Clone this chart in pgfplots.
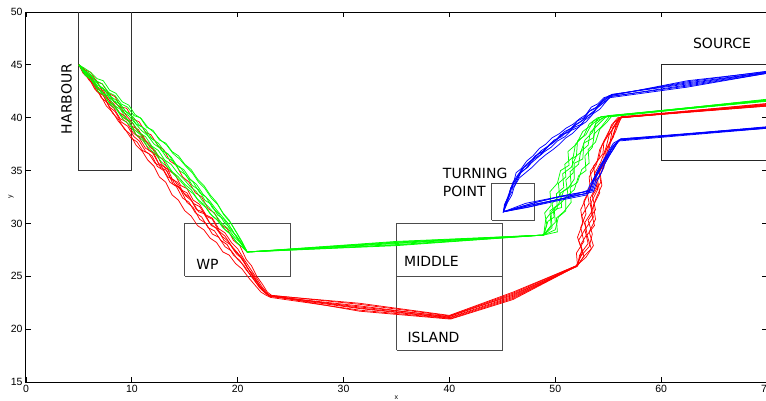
\documentclass[border=0pt]{standalone}
\usepackage{fontspec}
\setmainfont{Liberation Sans}
\newfontfamily\lblfont{DejaVu Sans}
\usepackage{pgfplots}
\pgfplotsset{compat=1.18}
\definecolor{cr}{RGB}{255,0,0}
\definecolor{cg}{RGB}{0,255,0}
\definecolor{cb}{RGB}{0,0,255}
\begin{document}
\begin{tikzpicture}
\useasboundingbox (-26pt,-18pt) rectangle (740pt,382pt);
\begin{axis}[
  scale only axis, width=741pt, height=370pt,
  xmin=0, xmax=70, ymin=15, ymax=50,
  xtick={0,10,20,30,40,50,60,70}, ytick={15,20,25,30,35,40,45,50},
  tick align=inside, major tick length=5pt,
  axis line style={black, line width=1pt},
  every tick/.style={black, line width=0.8pt},
  tick label style={font=\fontsize{10.5}{12}\selectfont},
  /pgf/number format/assume math mode=true,
  xlabel={x}, ylabel={y},
  every axis x label/.style={at={(axis description cs:0.5,-0.041)}, anchor=center, font=\fontsize{7}{8}\selectfont},
  every axis y label/.style={at={(axis description cs:-0.0202,0.5)}, anchor=center, rotate=90, font=\fontsize{7}{8}\selectfont},
  clip=true,
]
% boxes
\addplot[black!80, line width=0.9pt] coordinates {(5,50) (5,35) (10,35) (10,50)};
\addplot[black!70, line width=0.9pt] coordinates {(15,25) (25,25) (25,30) (15,30) (15,25)};
\addplot[black!70, line width=0.9pt] coordinates {(35,25) (45,25) (45,30) (35,30) (35,25)};
\addplot[black!70, line width=0.9pt] coordinates {(35,18) (45,18) (45,25) (35,25) (35,18)};
\addplot[black!70, line width=0.9pt] coordinates {(44,30.3) (48,30.3) (48,33.8) (44,33.8) (44,30.3)};
\addplot[black!85, line width=0.9pt] coordinates {(75,36) (60,36) (60,45) (75,45)};
% red
\pgfplotsset{every axis plot/.append style={line width=0.75pt}}
\addplot[cr] coordinates {(5,45) (5.6,44.5) (6.1,44.3) (6.7,43.4) (7.2,43.2) (7.8,42.3) (8.4,42.0) (9.0,41.0) (9.5,40.9) (10.1,39.9) (10.7,39.6) (11.3,38.6) (11.8,38.4) (12.5,37.3) (13.0,37.0) (13.6,35.9) (14.2,35.5) (14.8,34.4) (15.4,33.9) (16.0,32.9) (16.6,32.5) (17.2,31.4) (17.8,31.0) (18.4,29.9) (19.0,29.5) (19.6,28.4) (20.2,27.9) (20.8,26.6) (21.3,26.0) (21.8,25.0) (22.3,24.3) (22.8,23.5) (23.2,23.2)
 (31.5,22.35) (40.0,21.25) (46,23.4)
 (52.0,26.0) (52.6,27.3) (52.2,28.4) (52.9,29.6) (52.5,30.7) (53.2,31.9) (53.0,33.0) (53.8,34.3) (53.6,35.4) (54.5,36.6) (54.6,37.8) (55.4,38.9) (56.0,40.0) (70,41.2)};
\addplot[cr] coordinates {(5,45) (5.4,44.4) (6.0,43.5) (6.5,43.1) (7.1,41.9) (7.6,41.5) (8.2,40.4) (8.7,39.9) (9.3,38.9) (9.8,38.5) (10.4,37.4) (11.0,36.8) (11.5,36.0) (12.1,35.4) (12.6,34.4) (13.2,33.9) (13.8,32.7) (14.4,32.2) (15.0,31.2) (15.6,30.7) (16.2,29.8) (16.8,29.4) (17.4,28.6) (18.0,28.2) (18.6,27.3) (19.2,27.0) (19.8,26.2) (20.4,25.7) (21.0,24.9) (21.6,24.2) (22.2,23.5) (22.7,23.2) (23.1,23.0)
 (31.5,21.8) (40.1,21.0) (46,22.9)
 (52.1,26.0) (52.3,27.0) (53.1,28.1) (52.8,29.4) (53.6,30.6) (53.3,31.8) (54.0,33.2) (53.9,34.5) (54.7,35.7) (54.8,37.0) (55.5,38.2) (55.7,39.2) (56.2,40.1) (70,41.1)};
\addplot[cr] coordinates {(5,45) (5.5,44.3) (6.0,44.0) (6.6,43.0) (7.1,42.7) (7.7,41.8) (8.3,41.3) (8.8,40.5) (9.4,40.1) (10.0,39.2) (10.6,38.9) (11.2,37.9) (11.7,37.5) (12.3,36.5) (12.9,36.1) (13.5,35.0) (14.1,34.6) (14.6,33.6) (15.2,33.3) (15.8,32.2) (16.4,31.8) (17.0,30.8) (17.6,30.5) (18.2,29.5) (18.8,29.1) (19.4,28.2) (20.0,27.6) (20.6,26.6) (21.2,25.7) (21.8,24.8) (22.3,24.0) (22.8,23.4) (23.1,23.1)
 (31.5,22.2) (39.9,21.15) (46,23.3)
 (52.0,25.9) (52.8,27.0) (53.4,27.6) (53.0,28.9) (53.7,29.8) (53.4,31.1) (53.9,32.5) (54.4,33.6) (54.2,35.0) (54.9,36.2) (55.2,37.6) (55.6,38.8) (56.3,40.1) (70,41.3)};
\addplot[cr] coordinates {(5,45) (5.6,44.0) (6.1,43.6) (6.7,42.5) (7.3,42.1) (7.9,41.0) (8.4,40.6) (9.0,39.6) (9.6,39.2) (10.2,38.2) (10.7,37.8) (11.3,36.8) (11.9,36.4) (12.4,35.4) (13.0,35.0) (13.6,33.9) (14.2,33.5) (14.8,32.4) (15.4,32.0) (16.0,31.0) (16.6,30.6) (17.2,29.6) (17.8,29.3) (18.4,28.4) (19.0,28.0) (19.6,27.0) (20.2,26.5) (20.8,25.6) (21.4,24.9) (22.0,24.0) (22.5,23.5) (23.0,23.1)
 (31.5,21.95) (40,21.05) (46,23.0)
 (52.1,26.0) (52.0,27.2) (52.7,28.3) (52.4,29.6) (52.9,30.9) (52.7,32.1) (53.3,33.3) (53.2,34.4) (53.9,35.6) (54.2,37.0) (54.9,38.2) (55.3,39.3) (55.9,40.0) (70,41.15)};
\addplot[cr] coordinates {(5,45) (5.5,44.6) (6.1,43.9) (6.6,43.6) (7.2,42.6) (7.7,42.4) (8.3,41.5) (8.9,41.0) (9.4,40.3) (10.0,39.6) (10.5,38.8) (11.1,38.2) (11.7,37.2) (12.2,36.9) (12.8,35.6) (13.4,35.1) (14.0,33.8) (14.6,33.2) (15.2,32.0) (15.8,31.5) (16.4,30.4) (17.0,30.0) (17.6,29.0) (18.2,28.7) (18.8,27.8) (19.4,27.4) (20.0,26.6) (20.6,26.0) (21.2,25.1) (21.8,24.3) (22.4,23.6) (22.9,23.2)
 (31.5,22.45) (40,21.3) (46,23.5)
 (52.0,26.0) (52.9,26.8) (53.6,27.9) (53.2,29.2) (53.8,30.4) (53.6,31.7) (54.2,32.9) (54.0,34.1) (54.6,35.3) (54.6,36.5) (55.2,37.8) (55.4,39.0) (56.1,40.0) (70,41.35)};
\addplot[cr] coordinates {(5,45) (5.4,44.2) (5.9,43.8) (6.5,42.7) (7.0,42.2) (7.6,41.1) (8.2,40.5) (8.7,39.7) (9.3,39.0) (9.9,38.1) (10.5,37.7) (11.0,36.9) (11.6,36.6) (12.2,35.7) (12.8,35.4) (13.4,34.4) (14.0,34.1) (14.6,33.2) (15.2,32.9) (15.8,31.9) (16.4,31.6) (17.0,30.7) (17.6,30.4) (18.2,29.3) (18.8,28.8) (19.4,27.9) (20.0,27.2) (20.6,26.3) (21.2,25.4) (21.8,24.5) (22.4,23.7) (22.9,23.2)
 (31.5,21.7) (40.1,20.95) (46,22.8)
 (52.1,26.0) (52.5,27.5) (52.1,28.7) (52.6,30.0) (52.4,31.3) (53.0,32.6) (53.5,33.7) (53.3,34.9) (54.1,36.1) (54.4,37.4) (55.0,38.6) (55.6,39.6) (56.2,40.0) (70,41.2)};
\addplot[cr] coordinates {(5,45) (5.6,44.1) (6.2,43.8) (6.8,42.7) (7.4,42.4) (8.0,41.4) (8.6,40.8) (9.2,40.0) (9.8,39.6) (10.4,38.4) (11.0,38.1) (11.6,36.9) (12.1,36.6) (12.7,35.3) (13.3,35.0) (13.9,33.7) (14.5,33.4) (15.1,32.6) (15.7,32.1) (16.3,31.1) (16.9,30.9) (17.5,29.8) (18.1,29.5) (18.7,28.4) (19.3,28.0) (19.9,27.1) (20.5,26.6) (21.1,25.5) (21.7,24.6) (22.3,23.8) (22.8,23.3) (23.2,23.1)
 (31.5,22.1) (39.9,21.2) (46,23.2)
 (52.0,26.0) (52.4,26.9) (53.2,27.8) (53.5,29.0) (53.1,30.3) (53.8,31.3) (53.5,32.6) (54.3,33.9) (54.1,35.1) (54.8,36.4) (55.1,37.5) (55.7,38.7) (56.2,40.0) (70,41.25)};
\addplot[cr] coordinates {(5,45) (5.5,44.2) (6.0,43.9) (6.6,42.8) (7.1,42.5) (7.7,41.4) (8.3,40.9) (8.9,39.9) (9.5,39.6) (10.1,38.6) (10.7,38.1) (11.3,37.1) (11.9,36.8) (12.5,35.7) (13.1,35.3) (13.7,34.2) (14.3,33.9) (14.9,32.9) (15.5,32.4) (16.1,31.3) (16.7,31.1) (17.3,30.1) (17.9,29.6) (18.5,28.8) (19.1,28.3) (19.7,27.4) (20.3,26.9) (20.9,25.8) (21.5,25.1) (22.1,24.1) (22.6,23.5) (23.0,23.2)
 (31.5,22.0) (40,21.1) (46,23.1)
 (52.1,26.0) (52.7,26.9) (52.4,28.0) (53.0,29.0) (52.8,30.1) (53.5,31.2) (53.3,32.4) (53.9,33.5) (53.7,34.7) (54.3,35.8) (54.8,37.2) (55.1,38.4) (55.8,39.5) (56.1,40.0) (70,41.1)};
% green
\addplot[cg] coordinates {(5,45) (5.5,44.7) (6.1,44.3) (6.7,43.7) (7.3,43.5) (7.9,42.6) (8.5,42.3) (9.1,41.5) (9.7,41.2) (10.3,40.3) (10.9,39.9) (11.5,39.1) (12.1,38.6) (12.7,37.9) (13.3,37.4) (13.9,36.6) (14.5,36.1) (15.1,35.4) (15.7,34.8) (16.3,33.9) (16.9,33.3) (17.5,32.4) (18.1,31.8) (18.7,30.8) (19.3,30.1) (19.9,29.1) (20.4,28.2) (20.9,27.3)
 (35,28.25)
 (48.9,28.9) (49.3,30.2) (49.9,30.6) (49.7,31.9) (50.4,32.6) (50.3,33.8) (51.0,34.4) (50.9,35.6) (51.7,36.3) (51.9,37.5) (52.7,38.3) (53.2,39.4) (54.0,40.0) (54.6,40.1) (70,41.6)};
\addplot[cg] coordinates {(5,45) (5.5,44.2) (6.0,43.8) (6.6,42.9) (7.2,42.5) (7.8,41.5) (8.4,41.1) (9.0,40.2) (9.6,39.8) (10.2,38.9) (10.8,38.4) (11.4,37.6) (12.0,37.1) (12.6,36.3) (13.2,35.8) (13.8,34.9) (14.4,34.4) (15.0,33.7) (15.6,33.2) (16.2,32.3) (16.8,31.8) (17.4,30.9) (18.0,30.4) (18.6,29.6) (19.2,29.1) (19.8,28.3) (20.4,27.8) (20.9,27.3)
 (35,27.95)
 (48.9,28.9) (49.6,29.8) (49.5,31.2) (50.3,31.8) (50.8,33.1) (51.5,33.6) (51.4,34.9) (52.2,35.6) (52.4,36.8) (53.1,37.4) (53.3,38.6) (54.0,39.3) (54.7,40.0) (55.2,40.2) (70,41.7)};
\addplot[cg] coordinates {(5,45) (5.6,44.3) (6.2,43.9) (6.8,43.2) (7.4,42.6) (8.0,42.0) (8.6,41.6) (9.2,40.7) (9.8,40.4) (10.4,39.4) (11.0,39.1) (11.6,38.2) (12.2,37.8) (12.8,36.9) (13.4,36.6) (14.0,35.7) (14.6,35.3) (15.2,34.4) (15.8,33.9) (16.4,32.9) (17.0,32.5) (17.6,31.5) (18.2,30.9) (18.8,30.0) (19.4,29.5) (20.0,28.5) (20.5,27.9) (20.9,27.3)
 (35,28.15)
 (48.9,28.9) (49.2,29.9) (49.0,31.0) (49.6,31.7) (49.5,33.0) (50.2,33.8) (50.5,35.0) (51.3,35.5) (51.2,36.8) (52.0,37.5) (52.6,38.7) (53.4,39.3) (54.3,40.1) (70,41.55)};
\addplot[cg] coordinates {(5,45) (5.4,44.4) (6.0,43.7) (6.5,43.3) (7.1,42.4) (7.7,42.1) (8.3,41.2) (8.9,40.8) (9.5,39.9) (10.1,39.5) (10.7,38.6) (11.3,38.2) (11.9,37.3) (12.5,36.9) (13.1,36.0) (13.7,35.6) (14.3,34.8) (14.9,34.2) (15.5,33.5) (16.1,33.0) (16.7,32.1) (17.3,31.5) (17.9,30.8) (18.5,30.0) (19.1,29.5) (19.7,28.7) (20.3,28.1) (20.9,27.3)
 (35,28.0)
 (48.9,28.9) (50.0,29.4) (50.3,30.6) (51.0,31.2) (51.0,32.5) (51.8,33.2) (52.2,34.5) (52.9,35.0) (52.8,36.4) (53.5,37.2) (53.7,38.5) (54.4,39.2) (55.1,40.1) (70,41.65)};
\addplot[cg] coordinates {(5,45) (5.5,44.5) (6.0,44.2) (6.6,43.5) (7.2,43.2) (7.8,42.4) (8.4,42.1) (9.0,41.3) (9.6,41.0) (10.2,40.2) (10.8,40.0) (11.4,39.1) (12.0,38.8) (12.6,37.9) (13.2,37.6) (13.8,36.8) (14.4,36.4) (15.0,35.6) (15.6,35.1) (16.2,34.2) (16.8,33.6) (17.4,32.7) (18.0,32.0) (18.6,31.0) (19.2,30.3) (19.8,29.3) (20.4,28.3) (20.9,27.3)
 (35,28.3)
 (48.9,28.9) (49.4,29.5) (50.0,30.1) (49.9,31.4) (50.6,32.0) (51.2,32.7) (51.0,34.1) (51.7,34.8) (51.6,36.1) (52.4,36.7) (52.8,37.9) (53.5,38.6) (53.9,39.7) (54.8,40.1) (70,41.75)};
\addplot[cg] coordinates {(5,45) (5.6,44.0) (6.2,43.6) (6.8,42.5) (7.4,42.1) (8.0,41.2) (8.6,40.7) (9.2,39.8) (9.8,39.3) (10.4,38.4) (11.0,37.9) (11.6,37.1) (12.2,36.6) (12.8,35.8) (13.4,35.3) (14.0,34.6) (14.6,34.0) (15.2,33.3) (15.8,32.8) (16.4,32.0) (17.0,31.5) (17.6,30.7) (18.2,30.2) (18.8,29.4) (19.4,28.9) (20.0,28.1) (20.5,27.7) (20.9,27.3)
 (35,27.9)
 (48.9,28.9) (49.1,30.4) (49.8,31.3) (50.6,31.5) (50.5,32.9) (51.2,33.3) (51.8,34.2) (51.8,35.7) (52.6,36.1) (52.7,37.6) (53.6,38.1) (53.8,39.4) (54.5,40.0) (55.0,40.2) (70,41.6)};
\addplot[cg] coordinates {(5,45) (5.5,44.4) (6.1,44.0) (6.7,43.1) (7.3,42.8) (7.9,41.9) (8.5,41.4) (9.1,40.6) (9.7,40.2) (10.3,39.5) (10.9,38.8) (11.5,38.3) (12.1,37.5) (12.7,37.1) (13.3,36.2) (13.9,35.9) (14.5,35.0) (15.1,34.6) (15.7,33.6) (16.3,33.2) (16.9,32.2) (17.5,31.8) (18.1,30.8) (18.7,30.4) (19.3,29.4) (19.9,28.8) (20.4,28.0) (20.9,27.3)
 (35,28.1)
 (48.9,28.9) (49.7,29.6) (49.6,30.9) (50.2,31.4) (50.1,32.8) (50.8,33.4) (50.7,34.7) (51.5,35.3) (52.0,36.4) (52.1,37.8) (52.9,38.4) (53.6,39.7) (54.4,40.1) (70,41.7)};
\addplot[cg] coordinates {(5,45) (5.4,44.6) (5.9,44.0) (6.5,43.6) (7.1,42.8) (7.7,42.5) (8.3,41.6) (8.9,41.3) (9.5,40.5) (10.1,40.1) (10.7,39.3) (11.3,38.9) (11.9,38.0) (12.5,37.6) (13.1,36.8) (13.7,36.3) (14.3,35.4) (14.9,35.1) (15.5,34.2) (16.1,33.7) (16.7,32.8) (17.3,32.2) (17.9,31.4) (18.5,30.7) (19.1,30.0) (19.7,29.0) (20.3,28.2) (20.9,27.3)
 (35,28.2)
 (48.9,28.9) (50.2,29.2) (50.1,30.5) (50.8,31.1) (51.5,32.0) (51.4,33.4) (52.1,33.9) (52.5,35.1) (53.2,35.7) (53.1,37.0) (53.8,37.7) (54.2,38.9) (54.9,39.6) (55.3,40.1) (70,41.65)};
% blue
\addplot[cb] coordinates {(70,44.3) (62.5,43.3) (55.4,42.2) (54.8,41.8) (54.1,41.2) (53.6,40.5) (53.0,40.1) (52.5,39.4) (51.8,39.1) (51.2,38.6) (50.5,38.4) (49.9,37.7) (49.2,37.2) (48.6,36.5) (48.0,36.1) (47.4,35.3) (46.8,34.9) (46.4,34.1) (46.1,33.4) (45.9,32.7) (45.5,32.0) (45.1,31.1) (47.5,31.7) (50.5,32.3) (53.2,32.9) (53.5,33.9) (53.9,34.8) (54.3,35.6) (54.9,36.4) (55.4,37.3) (56.1,37.9) (70,39.05)};
\addplot[cb] coordinates {(70,44.2) (62.5,43.0) (55.1,42.0) (54.5,41.6) (53.8,40.9) (53.2,40.6) (52.6,39.8) (52.0,39.4) (51.3,38.7) (50.7,38.4) (50.0,37.8) (49.4,37.4) (48.7,36.7) (48.1,36.4) (47.5,35.6) (46.9,35.2) (46.4,34.5) (46.0,33.9) (45.7,33.0) (45.6,32.4) (45.3,31.6) (45.1,31.1) (47.8,31.9) (50.6,32.6) (53.4,33.1) (53.7,34.1) (54.2,35.0) (54.5,35.8) (55.1,36.6) (55.6,37.5) (56.2,38.0) (70,39.1)};
\addplot[cb] coordinates {(70,44.35) (62.5,43.5) (55.3,42.1) (54.6,41.9) (54.0,41.3) (53.4,41.0) (52.9,40.3) (52.3,39.9) (51.7,39.4) (51.0,39.0) (50.4,38.5) (49.7,38.1) (49.1,37.5) (48.5,37.1) (47.9,36.4) (47.3,35.9) (46.8,35.2) (46.3,34.8) (46.1,34.0) (45.8,33.3) (45.4,32.2) (45.1,31.1) (47.2,31.9) (50.2,32.5) (52.9,32.8) (53.3,33.7) (53.8,34.5) (54.4,35.4) (54.7,36.2) (55.3,37.0) (56.0,37.8) (70,39.0)};
\addplot[cb] coordinates {(70,44.25) (62.5,43.1) (55.2,42.0) (54.7,41.4) (54.2,40.8) (53.6,40.4) (52.9,39.6) (52.3,39.2) (51.6,38.5) (51.0,38.1) (50.4,37.5) (49.8,37.0) (49.1,36.5) (48.5,36.0) (47.8,35.3) (47.2,34.8) (46.6,34.3) (46.2,33.6) (45.8,33.2) (45.6,32.5) (45.2,31.8) (45.1,31.1) (48.0,31.8) (51.0,32.4) (53.6,33.0) (53.9,33.9) (54.4,34.9) (54.7,35.7) (55.2,36.6) (55.7,37.4) (56.1,37.9) (70,39.15)};
\addplot[cb] coordinates {(70,44.3) (62.5,43.2) (55.3,42.2) (54.8,41.6) (54.3,41.2) (53.6,40.6) (53.1,40.2) (52.4,39.6) (51.9,39.3) (51.2,38.8) (50.6,38.2) (49.9,37.9) (49.3,37.3) (48.7,36.9) (48.0,36.2) (47.4,35.7) (46.8,35.1) (46.5,34.4) (46.0,33.8) (45.9,33.0) (45.5,32.3) (45.1,31.1) (47.6,31.6) (50.8,32.4) (53.3,33.2) (53.6,34.2) (54.1,35.1) (54.5,35.9) (55.0,36.8) (55.5,37.6) (56.2,38.0) (70,39.0)};
\addplot[cb] coordinates {(70,44.4) (62.5,43.4) (55.1,42.1) (54.5,41.7) (53.9,41.0) (53.3,40.7) (52.7,40.0) (52.1,39.7) (51.5,39.0) (50.9,38.7) (50.2,38.0) (49.6,37.6) (49.0,36.9) (48.4,36.6) (47.7,35.9) (47.1,35.4) (46.6,34.6) (46.3,34.2) (45.9,33.5) (45.7,32.8) (45.3,31.9) (45.1,31.1) (47.3,31.5) (50.0,32.1) (53.0,32.7) (53.4,33.6) (53.9,34.6) (54.3,35.3) (54.8,36.1) (55.4,36.9) (55.9,37.7) (56.1,37.9) (70,39.1)};
\addplot[cb] coordinates {(70,44.2) (62.5,42.9) (55.2,41.9) (54.6,41.5) (54.0,41.0) (53.4,40.2) (52.8,39.8) (52.2,39.1) (51.5,38.8) (50.9,38.2) (50.2,37.8) (49.6,37.2) (49.0,36.8) (48.3,36.2) (47.7,35.7) (47.0,35.0) (46.5,34.6) (46.2,33.8) (45.8,33.4) (45.6,32.6) (45.3,32.0) (45.1,31.1) (48.2,32.0) (51.2,32.7) (53.5,33.1) (53.8,34.0) (54.3,34.7) (54.6,35.5) (55.1,36.4) (55.6,37.2) (56.0,37.9) (70,39.05)};
% labels
\node[font=\lblfont\fontsize{14}{17}\selectfont, rotate=90] at (axis cs:3.83,41.77) {HARBOUR};
\node[font=\lblfont\fontsize{14}{17}\selectfont] at (axis cs:17.15,26.16) {WP};
\node[font=\lblfont\fontsize{14}{17}\selectfont] at (axis cs:38.3,26.45) {MIDDLE};
\node[font=\lblfont\fontsize{14}{17}\selectfont] at (axis cs:38.5,19.2) {ISLAND};
\node[font=\lblfont\fontsize{14}{18}\selectfont, align=left, anchor=west, inner sep=0pt] at (axis cs:39.37,33.92) {TURNING\\POINT};
\node[font=\lblfont\fontsize{14}{17}\selectfont] at (axis cs:65.75,47.07) {SOURCE};
\end{axis}
\end{tikzpicture}
\end{document}
